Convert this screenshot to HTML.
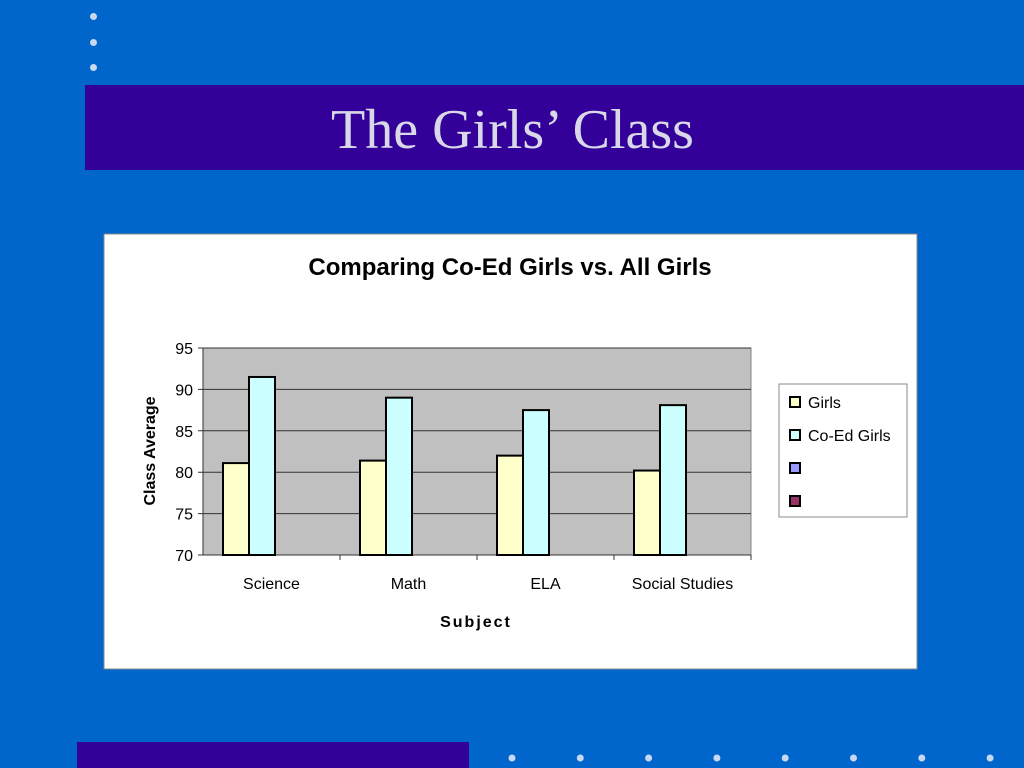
<!DOCTYPE html>
<html><head><meta charset="utf-8"><style>
body{margin:0;width:1024px;height:768px;background:#0066cc;position:relative;overflow:hidden;font-family:"Liberation Sans",sans-serif}
.dot{position:absolute;width:7px;height:7px;border-radius:50%;background:#c8d8f0}
</style></head><body>
<div class="dot" style="left:90px;top:13px"></div>
<div class="dot" style="left:90px;top:39px"></div>
<div class="dot" style="left:90px;top:64px"></div>
<div style="position:absolute;left:85px;top:85px;width:939px;height:85px;background:#330099"></div>
<div style="position:absolute;left:85px;top:98px;width:855px;text-align:center;font-family:'Liberation Serif',serif;font-size:56px;color:#d8d8e8">The Girls’ Class</div>
<div style="position:absolute;left:77px;top:742px;width:392px;height:26px;background:#330099"></div>
<div id="fdots"></div>
<svg id="chart" style="position:absolute;left:0;top:0" width="1024" height="768"></svg>
<script>
const categories=["Science","Math","ELA","Social Studies"];
const girls=[81.1,81.4,82.0,80.2];
const coed=[91.5,89.0,87.5,88.1];
const yTicks=[70,75,80,85,90,95];
const NS="http://www.w3.org/2000/svg";
const svg=document.getElementById('chart');
function mk(t,a,p){const e=document.createElementNS(NS,t);for(const k in a)e.setAttribute(k,a[k]);(p||svg).appendChild(e);return e;}
// footer dots
for(let i=0;i<8;i++){const d=mk('circle',{cx:512+i*68.3,cy:758,r:3.5,fill:'#c8d8f0'});

}
const box=mk('rect',{x:104,y:234,width:813,height:435,fill:'#fff',stroke:'#888'});


const t=mk('text',{x:510,y:275,'text-anchor':'middle','font-size':24,'font-weight':'bold',fill:'#000'});t.textContent='Comparing Co-Ed Girls vs. All Girls';


const X0=203,X1=751,Y0=555,Y1=348,ymin=70,ymax=95;
const y=v=>Y0-(v-ymin)/(ymax-ymin)*(Y0-Y1);
const cw=(X1-X0)/categories.length;
const pa=mk('rect',{x:X0,y:Y1,width:X1-X0,height:Y0-Y1,fill:'#c0c0c0',stroke:'#808080'});


yTicks.forEach(v=>{
 const g=mk('line',{x1:X0-5,x2:X1,y1:y(v),y2:y(v),stroke:'#333','stroke-width':1});
 
 
 const l=mk('text',{x:X0-10,y:y(v)+6,'text-anchor':'end','font-size':16});l.textContent=v;
 
 
});
mk('line',{x1:X0,x2:X0,y1:Y1,y2:Y0,stroke:'#333'});
categories.forEach((c,i)=>{
 const cx=X0+cw*i;
 mk('line',{x1:cx+cw,x2:cx+cw,y1:Y0,y2:Y0+5,stroke:'#333'});
 const b1=mk('rect',{x:cx+20,y:y(girls[i]),width:26,height:Y0-y(girls[i]),fill:'#ffffcc',stroke:'#000','stroke-width':2});
 
 
 const b2=mk('rect',{x:cx+46,y:y(coed[i]),width:26,height:Y0-y(coed[i]),fill:'#ccffff',stroke:'#000','stroke-width':2});
 
 
 const l=mk('text',{x:cx+cw/2,y:589,'text-anchor':'middle','font-size':16});l.textContent=c;
 
 
});
const xt=mk('text',{x:476,y:627,'text-anchor':'middle','font-size':16,'font-weight':'bold','letter-spacing':'2'});xt.textContent='Subject';


const yt=mk('text',{x:0,y:0,'text-anchor':'middle','font-size':16,'font-weight':'bold',transform:'translate(155,451) rotate(-90)'});yt.textContent='Class Average';


const lg=mk('rect',{x:779,y:384,width:128,height:133,fill:'#fff',stroke:'#888'});


const lgItems=[['Girls','#ffffcc'],['Co-Ed Girls','#ccffff'],['','#9999ff'],['','#993366']];
lgItems.forEach((it,i)=>{
 const yy=402+i*33;
 mk('rect',{x:790,y:yy-5,width:10,height:10,fill:it[1],stroke:'#000','stroke-width':2});
 if(it[0]){const l=mk('text',{x:808,y:yy+6,'font-size':16});l.textContent=it[0];
 
 }
});
</script>
</body></html>
